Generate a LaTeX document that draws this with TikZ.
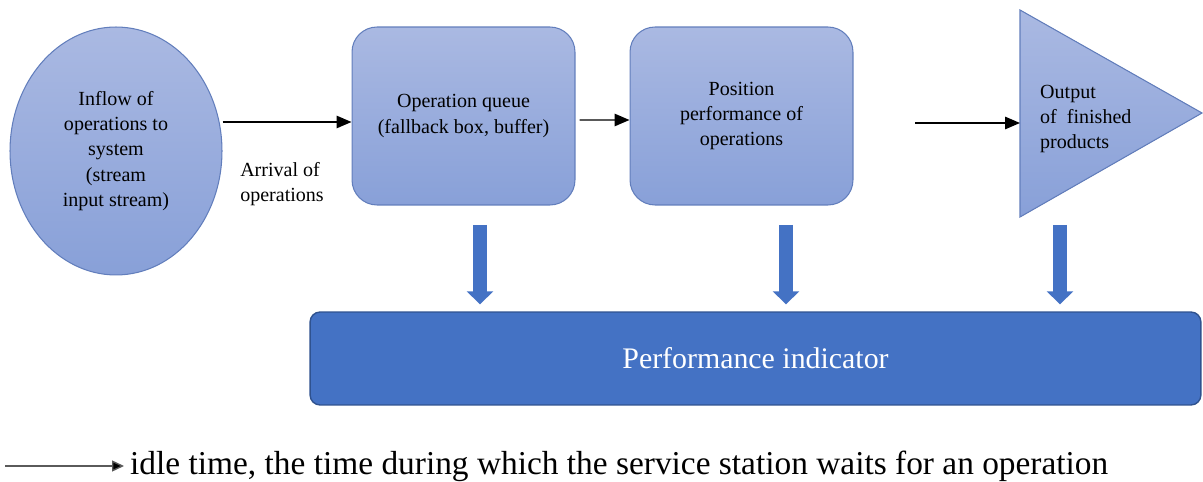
\documentclass[tikz,border=0pt]{standalone}
\usepackage{fontspec}
\setmainfont{Liberation Serif}
\usepackage{tikz}
\usetikzlibrary{
arrows.meta,
positioning,
shapes.geometric,
calc
}
\definecolor{qtop}{RGB}{170,185,226}
\definecolor{qbot}{RGB}{136,160,216}
\definecolor{qline}{RGB}{98,126,188}
\definecolor{kpiblue}{HTML}{4472C4}
\definecolor{kpiline}{HTML}{2F528F}
\definecolor{legendgray}{RGB}{90,90,90}

\begin{document}
\begin{tikzpicture}[x=0.02cm, y=-0.02cm,
  every node/.style={font=\fontsize{11.4}{14.4}\selectfont, text=black},
  stage/.style={draw=qline, line width=0.6pt, top color=qtop, bottom color=qbot,
    align=center, inner sep=0pt},
  boxstage/.style={stage, rounded corners=0.5cm, minimum width=4.46cm, minimum height=3.56cm},
  flow/.style={-{Triangle[width=0.25cm,length=0.3cm]}, line width=0.8pt, black},
  downarr/.style={kpiblue, line width=0.28cm, shorten >=0.14cm,
    -{Triangle[width=0.52cm,length=0.26cm]}}
  ]
  \useasboundingbox (0,0) rectangle (1203,482);
  % Input stream, queue and service position
  \node[stage, ellipse, minimum width=4.24cm, minimum height=4.96cm] (inflow) at (116,151)
    {\fontsize{11.4}{14.8}\selectfont Inflow of\\operations to\\system\\(stream\\input stream)};
  \node[boxstage] (queue) at (463.5,116) {Operation queue\\(fallback box, buffer)};
  \node[boxstage] (proc) at (741.5,116) {Position\\performance of\\operations};
  % Output triangle
  \filldraw[draw=qline, line width=0.6pt, top color=qtop, bottom color=qbot]
    (1020,10) -- (1202,113) -- (1020,217) -- cycle;
  \coordinate (outbase) at (1020,123);
  \node[align=left, anchor=west] (outtxt) at (1034,119) {Output\\of~ finished\\products};
  % Flow arrows
  \draw[flow] (inflow.east |- 0,122) -- (queue.west |- 0,122);
  \node[align=left] (arrival) at (282,184) {Arrival of\\operations};
  \draw[flow] ([shift={(4,4)}]queue.east) -- ([yshift=-0.08cm]proc.west);
  \coordinate (o3) at (915,123);
  \draw[flow] (o3) -- (outbase);
  % Performance indicator
  \node[draw=kpiline, line width=0.8pt, fill=kpiblue, rounded corners=0.2cm,
    minimum width=17.82cm, minimum height=1.86cm,
    font=\fontsize{17}{19}\selectfont, text=white] (perf) at (755.5,358.5)
    {Performance indicator};
  \coordinate (d1) at (480,225);
  \coordinate (d2) at (786,225);
  \coordinate (d3) at (1060,225);
  \foreach \d in {d1,d2,d3}
    \draw[downarr] (\d) -- (\d |- perf.north);
  % Legend
  \coordinate (lg) at (5,466);
  \node[anchor=west, font=\fontsize{19}{21}\selectfont] (legtxt) at (124,466)
    {idle time, the time during which the service station waits for an operation};
  \draw[legendgray, line width=0.8pt, -{Triangle[width=0.22cm,length=0.24cm,fill=black]}]
    (lg) -- (legtxt.west);
\end{tikzpicture}
\end{document}
